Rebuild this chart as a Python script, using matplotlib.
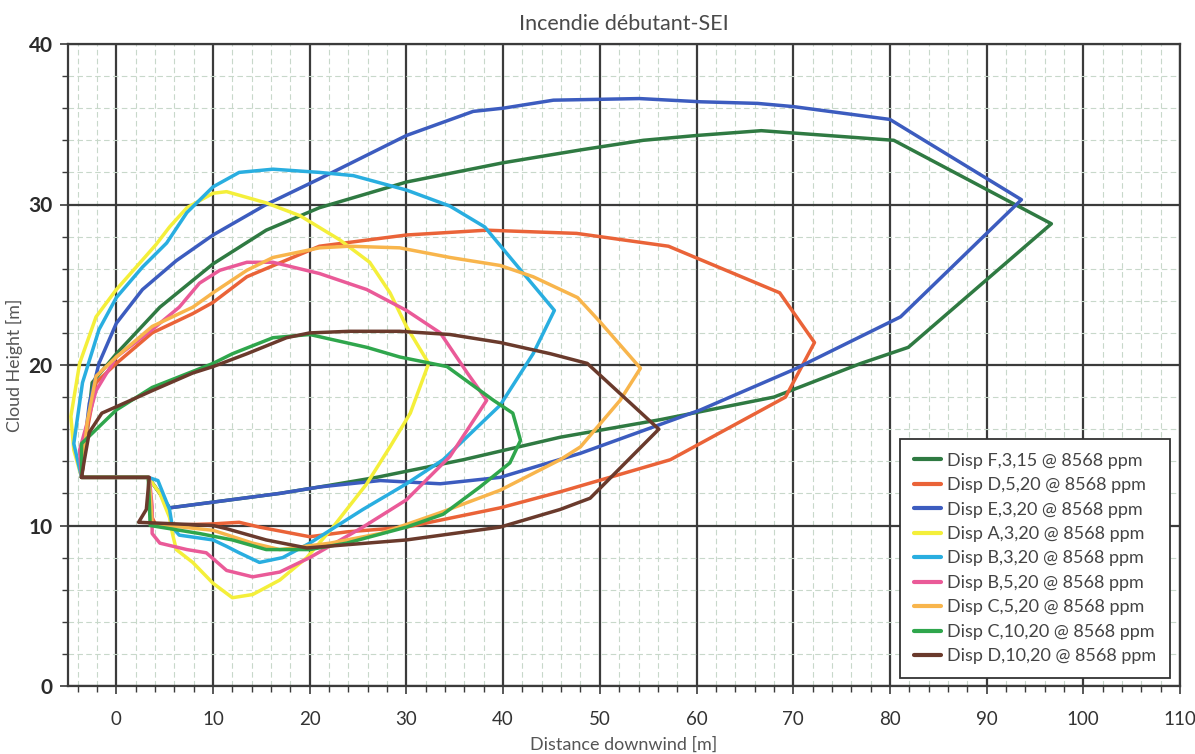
import matplotlib
matplotlib.use("Agg")
import matplotlib.pyplot as plt
from matplotlib.ticker import MultipleLocator

title = "Incendie débutant-SEI"
x_label = "Distance downwind [m]"
y_label = "Cloud Height [m]"

labels = [
    "Disp F,3,15 @ 8568 ppm",
    "Disp D,5,20 @ 8568 ppm",
    "Disp E,3,20 @ 8568 ppm",
    "Disp A,3,20 @ 8568 ppm",
    "Disp B,3,20 @ 8568 ppm",
    "Disp B,5,20 @ 8568 ppm",
    "Disp C,5,20 @ 8568 ppm",
    "Disp C,10,20 @ 8568 ppm",
    "Disp D,10,20 @ 8568 ppm",
]
colors = ["#2f7a42", "#ea6338", "#3c5cbf", "#f4ef3a", "#29aee0",
          "#ea5a98", "#f8b54c", "#2fa64c", "#6a3a2c"]

# Cloud envelope outlines (distance, height) in metres
f_3_15_x = [-3.6, -3.0, -2.5, 0, 4.5, 10, 15.5, 21, 30, 40, 48, 54.5, 60, 66.7, 80.4,
            96.7, 81.9, 77, 68, 56.3, 45.9, 35.9, 26.9, 21, 16.9, 5.5, 4.5, 3.3, -3.6]
f_3_15_y = [13.0, 16.0, 18.9, 20.7, 23.6, 26.3, 28.4, 29.8, 31.4, 32.6, 33.4, 34.0, 34.3, 34.6, 34.0,
            28.8, 21.1, 20.1, 18.0, 16.6, 15.5, 14.1, 13.0, 12.4, 12.0, 11.1, 12.0, 13.0, 13.0]

d_5_20_x = [-3.6, -3.0, -2.1, 0, 3.7, 7.9, 10, 13.5, 21, 30, 38.3, 47.6, 57.1, 68.6, 72.2,
            69.2, 57.3, 45.9, 39.7, 30, 23.8, 20, 14.8, 12.7, 10, 4.1, 3.7, 3.5, 3.3, -3.6]
d_5_20_y = [13.0, 16.0, 18.9, 20.1, 22.0, 23.2, 23.9, 25.5, 27.4, 28.1, 28.4, 28.2, 27.4, 24.5, 21.4,
            18.0, 14.1, 12.1, 11.1, 9.9, 9.6, 9.3, 9.9, 10.2, 10.1, 10.0, 10.5, 12.0, 13.0, 13.0]

e_3_20_x = [-3.6, -3.2, -2.8, -1.8, 0, 2.7, 6.2, 10, 15.5, 21, 30, 36.9, 40, 45.2, 54.1, 60.4,
            66.3, 70, 80, 93.6, 81.1, 70, 60.4, 48, 39.7, 33.5, 27.3, 21, 16.9, 5.5, 4.5, 3.3, -3.6]
e_3_20_y = [13.0, 15.5, 17.6, 20.1, 22.6, 24.7, 26.5, 28.1, 30.0, 31.6, 34.3, 35.8, 36.0, 36.5, 36.6, 36.4,
            36.3, 36.1, 35.3, 30.3, 23.0, 19.7, 17.2, 14.5, 13.0, 12.6, 12.8, 12.4, 12.0, 11.1, 12.0, 13.0, 13.0]

a_3_20_x = [-3.6, -4.4, -4.7, -3.8, -2.1, 0, 4.1, 5.5, 7.3, 10, 11.4, 15.5, 19.0, 23.1, 26.2, 28.3,
            30, 32.3, 30.4, 28.3, 25.9, 22.4, 19.7, 16.9, 14.1, 12.0, 10, 7.9, 6.2, 5.8, 5.5, 4.5, 3.3, -3.6]
a_3_20_y = [13.0, 14.7, 16.8, 20.1, 23.0, 24.7, 27.5, 28.6, 29.8, 30.7, 30.8, 30.1, 29.3, 27.8, 26.4, 24.5,
            22.4, 20.1, 17.0, 14.9, 12.6, 9.9, 8.0, 6.6, 5.7, 5.5, 6.4, 7.7, 8.5, 9.5, 10.5, 12.0, 13.0, 13.0]

b_3_20_x = [-3.6, -4.4, -3.5, -1.8, 0, 2.7, 5.2, 7.3, 10, 12.7, 16.2, 21, 24.5, 30, 34.5, 38.1,
            41, 45.3, 43.1, 39.7, 33.8, 30, 25.5, 20, 17.2, 14.8, 12.7, 11.4, 10, 6.5, 5.8, 5.5,
            4.3, 3.3, -3.6]
b_3_20_y = [13.0, 15.1, 18.9, 22.2, 24.2, 26.1, 27.6, 29.5, 31.1, 32.0, 32.2, 32.0, 31.8, 30.9, 29.9, 28.6,
            26.5, 23.4, 20.7, 17.5, 14.1, 12.6, 11.0, 8.9, 8.0, 7.7, 8.3, 8.7, 9.1, 9.4, 9.9, 11.0,
            12.8, 13.0, 13.0]

b_5_20_x = [-3.6, -3.8, -2.1, 0, 3.7, 6.5, 8.6, 10.7, 13.5, 16.2, 21, 25.9, 30, 33.5, 36.3, 38.3,
            34.5, 30, 25.5, 20, 16.9, 14.1, 11.4, 9.3, 7.3, 4.5, 3.7, 3.7, 3.4, -3.6]
b_5_20_y = [13.0, 14.7, 18.4, 20.5, 22.2, 23.6, 25.1, 25.9, 26.4, 26.4, 25.7, 24.7, 23.4, 22.0, 19.5, 17.8,
            14.3, 11.6, 9.9, 8.0, 7.1, 6.8, 7.2, 8.3, 8.5, 8.9, 9.5, 11.2, 13.0, 13.0]

c_5_20_x = [-3.6, -3.0, -2.1, 0, 3.7, 7.9, 10, 13.5, 16.2, 21, 24.1, 29.3, 34.5, 39.7, 43.1, 47.7,
            50, 54.2, 52.1, 48, 45.9, 39.7, 33.5, 27.3, 22.1, 16.9, 14.1, 10, 3.7, 3.5, 3.3, -3.6]
c_5_20_y = [13.0, 16.5, 19.3, 20.5, 22.4, 23.6, 24.5, 25.9, 26.7, 27.3, 27.4, 27.3, 26.7, 26.2, 25.5, 24.2,
            22.7, 19.8, 17.8, 14.9, 14.1, 12.2, 10.8, 9.5, 8.9, 8.5, 8.9, 9.7, 10.1, 12.0, 13.0, 13.0]

c_10_20_x = [-3.6, -3.6, 0, 3.7, 7.9, 10, 12, 16.2, 20, 25.9, 29.3, 34.2, 39, 41, 41.8, 40.7,
             37.6, 33.8, 30, 23.8, 20, 15.5, 12, 8.6, 3.5, 3.4, 3.3, -3.6]
c_10_20_y = [13.0, 15.1, 17.2, 18.6, 19.6, 20.1, 20.7, 21.7, 21.9, 21.1, 20.5, 19.9, 17.8, 17.0, 15.3, 13.9,
             12.4, 10.7, 9.9, 8.9, 8.5, 8.5, 9.1, 9.5, 10.0, 11.5, 13.0, 13.0]

d_10_20_x = [-3.6, -3.3, -2.8, -1.5, 0, 3.7, 7.9, 10, 13.5, 17.6, 20, 24.1, 29.3, 34.5, 39.7, 44.9,
             48.7, 56.1, 49, 45.9, 39.7, 30, 23.8, 19.7, 15.5, 11.4, 10, 2.3, 3.1, 3.4, -3.6]
d_10_20_y = [13.0, 14.1, 15.8, 17.0, 17.4, 18.4, 19.5, 19.9, 20.7, 21.7, 22.0, 22.1, 22.1, 21.9, 21.4, 20.7,
             20.1, 16.0, 11.7, 11.0, 9.9, 9.1, 8.8, 8.6, 9.1, 9.8, 10.0, 10.2, 11.0, 13.0, 13.0]

series = [
    (f_3_15_x, f_3_15_y), (d_5_20_x, d_5_20_y), (e_3_20_x, e_3_20_y),
    (a_3_20_x, a_3_20_y), (b_3_20_x, b_3_20_y), (b_5_20_x, b_5_20_y),
    (c_5_20_x, c_5_20_y), (c_10_20_x, c_10_20_y), (d_10_20_x, d_10_20_y),
]

plt.rcParams["font.family"] = ["Lato", "DejaVu Sans"]

fig = plt.figure(figsize=(11.95, 7.54), dpi=100)
ax = fig.add_axes([68 / 1195, 1 - 686 / 754, (1180 - 68) / 1195, (686 - 44) / 754])

ax.set_xlim(-5, 110)
ax.set_ylim(0, 40)

ax.xaxis.set_major_locator(MultipleLocator(10))
ax.xaxis.set_minor_locator(MultipleLocator(2))
ax.yaxis.set_major_locator(MultipleLocator(10))
ax.yaxis.set_minor_locator(MultipleLocator(2))

ax.grid(which="minor", color="#c8d8ca", linestyle=(0, (5, 3)), linewidth=0.8, zorder=0)
ax.grid(which="major", color="#3b3b3b", linestyle="-", linewidth=1.6, zorder=1)
ax.set_axisbelow(True)

for sp in ax.spines.values():
    sp.set_color("#3b3b3b")
    sp.set_linewidth(1.6)

ax.tick_params(axis="both", which="major", length=6, width=1.2, color="#3b3b3b", direction="out")
ax.tick_params(axis="both", which="minor", length=4, width=1.0, color="#3b3b3b", direction="out")
ax.tick_params(axis="y", which="major", labelsize=15, labelcolor="#2b2b2b", pad=5)
ax.tick_params(axis="x", which="major", labelsize=13.5, labelcolor="#333333", pad=12)
for t in ax.get_yticklabels():
    t.set_fontweight("bold")

for (xs, ys), col, lab in zip(series, colors, labels):
    ax.plot(xs, ys, color=col, linewidth=2.5, label=lab,
            solid_joinstyle="round", solid_capstyle="round", zorder=3)

ax.set_title(title, fontsize=15.5, color="#4a4a4a", pad=10)
ax.set_xlabel(x_label, fontsize=13, color="#555555", labelpad=6)
ax.set_ylabel(y_label, fontsize=12.8, color="#555555", labelpad=4)

leg = ax.legend(loc="lower right", bbox_to_anchor=(0.991, 0.0125), fontsize=13,
                frameon=True, fancybox=False, framealpha=1, edgecolor="#333333",
                handlelength=1.5, handletextpad=0.35, labelspacing=0.47,
                borderpad=0.75, borderaxespad=0)
leg.get_frame().set_linewidth(1.3)
for t in leg.get_texts():
    t.set_color("#444444")
for h in leg.get_lines():
    h.set_linewidth(3)

fig.savefig("out.png", dpi=100, facecolor="white")
